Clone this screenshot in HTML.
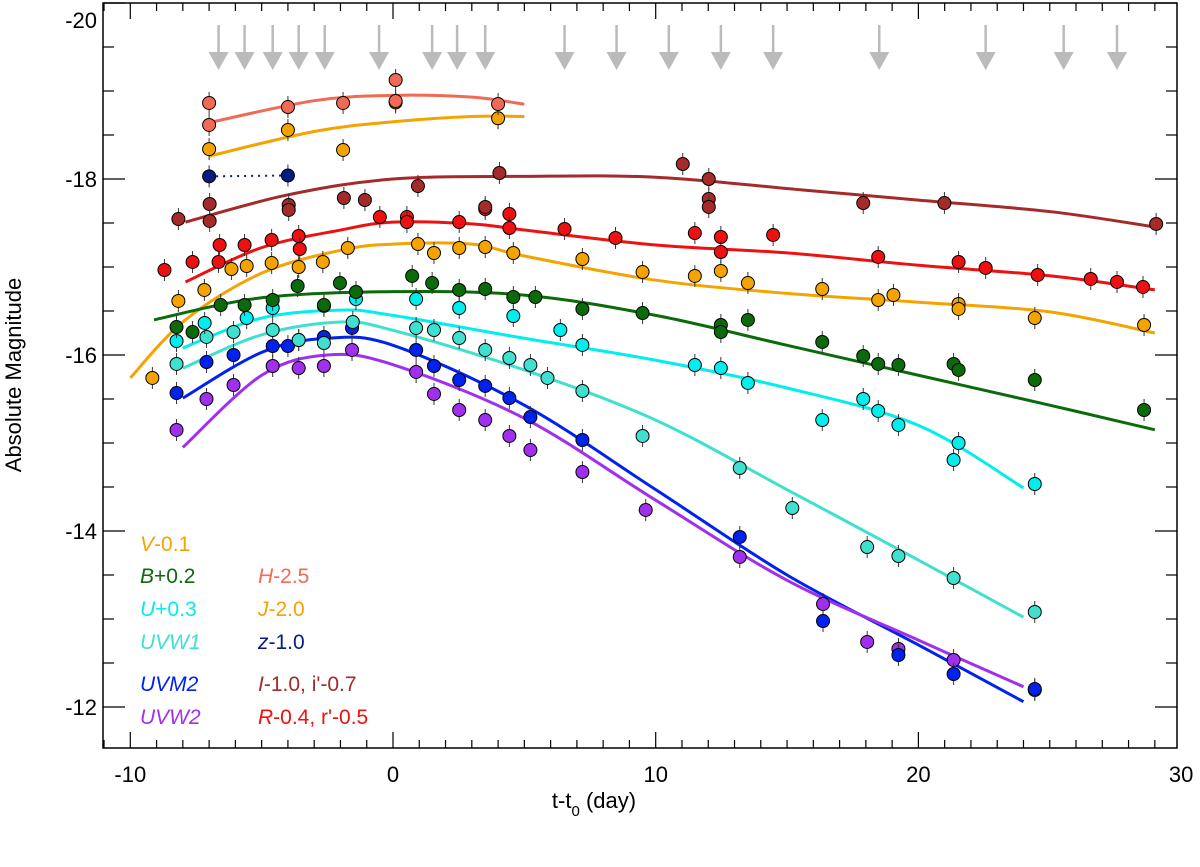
<!DOCTYPE html>
<html><head><meta charset="utf-8"><style>
body{margin:0;background:#fff;}
svg text{font-family:"Liberation Sans",Arial,sans-serif;}
</style></head><body>
<svg id="chart" width="1200" height="862" viewBox="0 0 1200 862" xmlns="http://www.w3.org/2000/svg">
<rect x="0" y="0" width="1200" height="862" fill="#fff"/>
<g id="curves"></g>
<g id="points"></g>
<g id="arrows"></g>
<g id="axes"></g>
<text x="0" y="0" font-size="22" text-anchor="middle" transform="translate(21,375) rotate(-90)">Absolute Magnitude</text>
<text x="594" y="808" font-size="22" text-anchor="middle">t-t<tspan font-size="15" dy="8">0</tspan><tspan dy="-8"> (day)</tspan></text>
<g font-size="21">
<text x="140" y="551" fill="#f5a300"><tspan font-style="italic">V</tspan>-0.1</text>
<text x="140" y="583" fill="#0b6b0b"><tspan font-style="italic">B</tspan>+0.2</text>
<text x="140" y="616" fill="#00eeee"><tspan font-style="italic">U</tspan>+0.3</text>
<text x="140" y="649" fill="#40e0d0" font-style="italic">UVW1</text>
<text x="140" y="691" fill="#0022ee" font-style="italic">UVM2</text>
<text x="140" y="724" fill="#a030ee" font-style="italic">UVW2</text>
<text x="258" y="583" fill="#f06a55"><tspan font-style="italic">H</tspan>-2.5</text>
<text x="258" y="616" fill="#f5a300"><tspan font-style="italic">J</tspan>-2.0</text>
<text x="258" y="649" fill="#0a1a80"><tspan font-style="italic">z</tspan>-1.0</text>
<text x="258" y="691" fill="#a52a2a"><tspan font-style="italic">I</tspan>-1.0, i'-0.7</text>
<text x="258" y="724" fill="#ee1111"><tspan font-style="italic">R</tspan>-0.4, r'-0.5</text>
</g>
</svg>
<script>
// ---- data (time in days, absolute magnitude) ----
const xTicks = [-10, 0, 10, 20, 30];
const yTicks = [-20, -18, -16, -14, -12];
const arrowTimes = [-6.64,-5.65,-4.58,-3.59,-2.6,-0.53,1.49,2.44,3.51,6.53,8.51,10.5,12.48,14.47,18.51,22.56,25.53,27.56];

const hCurveT = [-7,-3,0,3,5];
const hCurveM = [-18.64,-18.89,-18.95,-18.93,-18.85];
const jCurveT = [-7,-3,0,3,5];
const jCurveM = [-18.26,-18.54,-18.65,-18.71,-18.71];
const iCurveT = [-7.9,-4,0,5,10,15.6,20,25,29];
const iCurveM = [-17.51,-17.82,-18.0,-18.03,-18.02,-17.875,-17.76,-17.63,-17.455];
const rCurveT = [-7.9,-5,-2,0,3,5,10,15,20,25,29];
const rCurveM = [-16.83,-17.22,-17.42,-17.51,-17.49,-17.42,-17.25,-17.16,-17.02,-16.9,-16.74];
const vCurveT = [-10,-7.9,-5,-2,0,3,5,10,15,20,25,29];
const vCurveM = [-15.74,-16.4,-16.93,-17.19,-17.26,-17.26,-17.125,-16.85,-16.7,-16.6,-16.49,-16.25];
const bCurveT = [-9.1,-5,0,5,10,15,20,25,29];
const bCurveM = [-16.4,-16.65,-16.72,-16.68,-16.45,-16.11,-15.77,-15.43,-15.15];
const uCurveT = [-8,-5,-2,0,5,10,15,20,24];
const uCurveM = [-16.08,-16.42,-16.51,-16.45,-16.19,-15.94,-15.625,-15.2,-14.49];
const uvw1CurveT = [-8,-5,-2,0,5,10,15,20,24];
const uvw1CurveM = [-15.85,-16.23,-16.375,-16.28,-15.83,-15.26,-14.47,-13.67,-13.02];
const uvm2CurveT = [-8,-5,-2.5,0,5,10,15,20,24];
const uvm2CurveM = [-15.51,-16.03,-16.19,-16.11,-15.43,-14.47,-13.5,-12.705,-12.06];
const uvw2CurveT = [-8,-5,-2.5,0,5,10,15,20,24];
const uvw2CurveM = [-14.95,-15.77,-16.0,-15.89,-15.28,-14.35,-13.44,-12.76,-12.23];

const hT = [-7,-7,-4,-1.9,0.1,0.1,4];
const hM = [-18.864,-18.614,-18.818,-18.864,-18.886,-19.125,-18.852];
const jT = [-7,-4,-1.9,0.1,4];
const jM = [-18.34,-18.557,-18.33,-18.87,-18.69];
const zT = [-7,-4];
const zM = [-18.03,-18.04];
const iT = [-8.17,-6.98,-6.98,-3.97,-3.97,-1.87,-1.07,0.95,4.05,3.51,11.03,12.02,12.02,12.02,17.9,20.99,29.05];
const iM = [-17.545,-17.716,-17.523,-17.705,-17.648,-17.784,-17.761,-17.92,-18.068,-17.682,-18.17,-18.0,-17.773,-17.682,-17.727,-17.727,-17.489];
const rT = [-8.7,-7.63,-6.64,-6.6,-5.65,-4.62,-3.59,-3.55,-0.5,0.53,0.53,2.52,3.51,4.43,4.43,6.53,8.47,11.49,12.48,12.48,14.47,18.47,21.53,22.56,24.54,26.56,27.56,28.55];
const rM = [-16.966,-17.057,-17.057,-17.25,-17.25,-17.307,-17.352,-17.205,-17.568,-17.568,-17.511,-17.511,-17.659,-17.602,-17.443,-17.432,-17.33,-17.386,-17.341,-17.17,-17.364,-17.114,-17.057,-16.989,-16.909,-16.864,-16.83,-16.773];
const vT = [-9.16,-8.17,-7.18,-6.15,-5.57,-4.62,-3.59,-2.67,-1.72,0.95,1.56,2.52,3.51,4.58,7.21,9.5,11.49,12.48,13.51,16.34,18.47,19.05,21.53,21.53,24.43,28.59];
const vM = [-15.739,-16.614,-16.739,-16.977,-17.011,-17.045,-17.0,-17.057,-17.216,-17.261,-17.159,-17.216,-17.227,-17.159,-17.091,-16.943,-16.898,-16.955,-16.818,-16.75,-16.625,-16.682,-16.58,-16.523,-16.42,-16.341];
const bT = [-8.24,-7.63,-6.56,-5.65,-4.58,-3.63,-2.63,-2.02,-1.41,0.73,1.49,2.52,3.51,4.58,5.42,7.21,9.5,12.48,12.48,13.51,16.34,17.9,18.47,19.24,21.34,21.53,24.43,28.59];
const bM = [-16.318,-16.261,-16.568,-16.568,-16.625,-16.784,-16.568,-16.818,-16.716,-16.898,-16.818,-16.739,-16.75,-16.659,-16.659,-16.523,-16.477,-16.341,-16.261,-16.398,-16.148,-15.989,-15.898,-15.886,-15.898,-15.83,-15.716,-15.375];
const uT = [-8.24,-7.17,-5.57,-4.58,-2.63,-1.41,0.88,2.52,4.58,6.37,7.21,11.49,12.48,13.51,16.34,17.9,18.47,19.24,21.34,21.53,24.43];
const uM = [-16.159,-16.364,-16.42,-16.534,-16.557,-16.636,-16.636,-16.534,-16.443,-16.284,-16.114,-15.886,-15.852,-15.682,-15.261,-15.5,-15.364,-15.205,-14.807,-15.0,-14.534];
const uvw1T = [-8.24,-7.1,-6.07,-4.58,-3.59,-2.63,-1.53,0.88,1.56,2.52,3.51,4.43,5.23,5.88,7.21,9.5,13.2,15.2,18.05,19.24,21.34,24.43];
const uvw1M = [-15.898,-16.205,-16.261,-16.284,-16.17,-16.136,-16.375,-16.307,-16.284,-16.193,-16.057,-15.966,-15.886,-15.739,-15.591,-15.08,-14.716,-14.261,-13.818,-13.716,-13.466,-13.08];
const uvm2T = [-8.24,-7.1,-6.07,-4.58,-4.0,-3.59,-2.63,-1.56,0.88,1.56,2.52,3.51,4.43,5.23,7.21,13.2,16.37,19.24,21.34,24.43];
const uvm2M = [-15.568,-15.92,-16.0,-16.102,-16.102,-16.17,-16.205,-16.307,-16.057,-15.875,-15.716,-15.648,-15.511,-15.295,-15.034,-13.932,-12.977,-12.591,-12.375,-12.205];
const uvw2T = [-8.24,-7.1,-6.07,-4.58,-3.59,-2.63,-1.56,0.88,1.56,2.52,3.51,4.43,5.23,7.21,9.62,13.2,16.37,18.05,19.24,21.34,24.43];
const uvw2M = [-15.148,-15.5,-15.659,-15.875,-15.852,-15.875,-16.057,-15.807,-15.557,-15.375,-15.261,-15.08,-14.92,-14.67,-14.239,-13.705,-13.17,-12.739,-12.659,-12.534,-12.193];

// ---- axes functions ----
const L=103,R=1177,T=3,B=748;
function X(t){return 393+26.27*t;}
function Y(m){return 3+88*(m+20);}
const NS="http://www.w3.org/2000/svg";
function mk(tag,attrs,parent){const e=document.createElementNS(NS,tag);for(const k in attrs)e.setAttribute(k,attrs[k]);parent.appendChild(e);return e;}

function smoothPath(ts,ms){
  const p=ts.map((t,i)=>[X(t),Y(ms[i])]);
  let d="M"+p[0][0]+","+p[0][1];
  for(let i=0;i<p.length-1;i++){
    const p0=p[i-1]||p[i],p1=p[i],p2=p[i+1],p3=p[i+2]||p2;
    const c1=[p1[0]+(p2[0]-p0[0])/6,p1[1]+(p2[1]-p0[1])/6];
    const c2=[p2[0]-(p3[0]-p1[0])/6,p2[1]-(p3[1]-p1[1])/6];
    d+=" C"+c1+" "+c2+" "+p2;
  }
  return d;
}

const curvesG=document.getElementById('curves');
const pointsG=document.getElementById('points');
const curveSets=[
 ['h',hCurveT,hCurveM,'#f06a55'],['j',jCurveT,jCurveM,'#f5a300'],['i',iCurveT,iCurveM,'#a52a2a'],
 ['r',rCurveT,rCurveM,'#ee1111'],['v',vCurveT,vCurveM,'#f5a300'],['b',bCurveT,bCurveM,'#0b6b0b'],
 ['u',uCurveT,uCurveM,'#00eeee'],['uvw1',uvw1CurveT,uvw1CurveM,'#40e0d0'],
 ['uvm2',uvm2CurveT,uvm2CurveM,'#0022ee'],['uvw2',uvw2CurveT,uvw2CurveM,'#a030ee']];
curveSets.forEach(c=>{
  const e=mk('path',{d:smoothPath(c[1],c[2]),fill:'none',stroke:c[3],'stroke-width':3},curvesG);
  
  
});
// z dotted connector
const zl=mk('line',{x1:X(zT[0]),y1:Y(zM[0]),x2:X(zT[1]),y2:Y(zM[1]),stroke:'#0a1a80','stroke-width':2,'stroke-dasharray':'2,5'},curvesG);



const pointSets=[
 ['uvw2',uvw2T,uvw2M,'#a030ee'],['uvm2',uvm2T,uvm2M,'#0022ee'],['uvw1',uvw1T,uvw1M,'#40e0d0'],
 ['u',uT,uM,'#00eeee'],['b',bT,bM,'#0b6b0b'],['v',vT,vM,'#f5a300'],['r',rT,rM,'#ee1111'],
 ['i',iT,iM,'#a52a2a'],['z',zT,zM,'#0a1a80'],['j',jT,jM,'#f5a300'],['h',hT,hM,'#f06a55']];
pointSets.forEach(s=>{
  s[1].forEach((t,i)=>{
    const x=X(t),y=Y(s[2][i]);
    const eb=mk('line',{x1:x,y1:y-11,x2:x,y2:y+11,stroke:'#333','stroke-width':1},pointsG);
    
    
    const c=mk('circle',{cx:x,cy:y,r:6.5,fill:s[3],stroke:'#000','stroke-width':1},pointsG);
    
    
  });
});

const arrowsG=document.getElementById('arrows');
arrowTimes.forEach(t=>{
  const x=X(t);
  const g=mk('g',{},arrowsG);
  
  
  mk('line',{x1:x,y1:25,x2:x,y2:55,stroke:'#bbb','stroke-width':2.5},g);
  mk('polygon',{points:(x-10)+",52 "+(x+10)+",52 "+x+",70",fill:'#bbb'},g);
});

const axesG=document.getElementById('axes');
const fr=mk('rect',{x:L,y:T,width:R-L,height:B-T,fill:'none',stroke:'#000','stroke-width':1.5},axesG);


for(let t=-11;t<=29;t++){
  const x=X(t); if(x<L||x>R) continue;
  const len=(t%10===0)?16:8;
  mk('line',{x1:x,y1:B,x2:x,y2:B-len,stroke:'#000','stroke-width':1.2},axesG);
  mk('line',{x1:x,y1:T,x2:x,y2:T+len,stroke:'#000','stroke-width':1.2},axesG);
}
for(let k=0;k<=16;k++){
  const m=-20+k*0.5,y=Y(m); if(y>B) continue;
  const len=(k%4===0)?22:11;
  mk('line',{x1:L,y1:y,x2:L+len,y2:y,stroke:'#000','stroke-width':1.2},axesG);
  mk('line',{x1:R,y1:y,x2:R-len,y2:y,stroke:'#000','stroke-width':1.2},axesG);
}
xTicks.forEach(t=>{
  const e=mk('text',{x:X(t),y:782,'font-size':22,'text-anchor':'middle'},axesG);
  e.textContent=String(t);
  
  
});
yTicks.forEach(m=>{
  let y=Y(m)+8; if(y<28) y=28;
  const e=mk('text',{x:97,y:y,'font-size':22,'text-anchor':'end'},axesG);
  e.textContent=String(m);
  
  
});
</script>
</body></html>
